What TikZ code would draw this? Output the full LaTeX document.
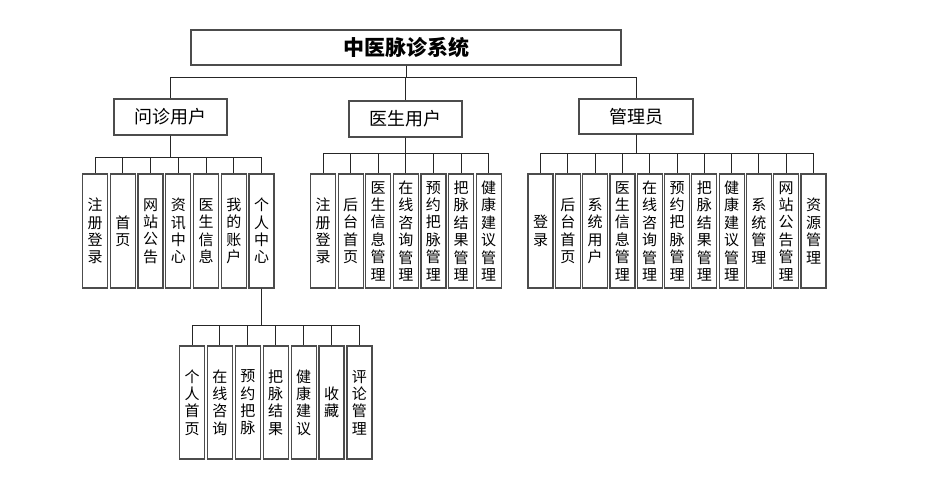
\documentclass[tikz,border=0pt]{standalone}
\usepackage{fontspec}
\setmainfont{Noto Sans CJK SC}
\usetikzlibrary{positioning}

\tikzset{
  box/.style={draw=black!70, line width=1.2pt, fill=white, inner sep=0pt},
  leaf/.style={box, minimum width=25pt, minimum height=114pt, align=center,
    font=\fontsize{15}{17.4}\selectfont},
  role/.style={box, minimum width=113pt, minimum height=36pt,
    font=\fontsize{18}{20}\selectfont},
  conn/.style={draw=black!85, line width=0.9pt}
}

\begin{document}
\begin{tikzpicture}[x=1pt,y=-1pt]
  \useasboundingbox (0,0) rectangle (939,490);

  % Top
  \node[box, minimum width=430pt, minimum height=35pt,
    font=\fontsize{21}{24}\selectfont\bfseries] (sys) at (406,47.5) {中医脉诊系统};

  % Roles
  \node[role] (wz) at (170.5,117) {问诊用户};
  \node[role] (ys) at (405.5,119) {医生用户};
  \node[role, minimum width=114pt, minimum height=35pt] (gl) at (636,116.5) {管理员};

  \foreach \r in {wz,ys,gl}
    \draw[conn] (sys.south) -- ++(0,12) -| (\r.north);

  % Patient user
  \foreach \t [count=\i] in {{注\\册\\登\\录},{首\\页},{网\\站\\公\\告},{资\\讯\\中\\心},
      {医\\生\\信\\息},{我\\的\\账\\户},{个\\人\\中\\心}} {
    \node[leaf] (a\i) at ({95+27.75*(\i-1)},231) {\t};
    \draw[conn] (wz.south) -- ++(0,22) -| (a\i.north);
  }

  % Doctor user
  \foreach \t [count=\i] in {{注\\册\\登\\录},{后\\台\\首\\页},{医\\生\\信\\息\\管\\理},
      {在\\线\\咨\\询\\管\\理},{预\\约\\把\\脉\\管\\理},{把\\脉\\结\\果\\管\\理},
      {健\\康\\建\\议\\管\\理}} {
    \node[leaf] (b\i) at ({323+27.6*(\i-1)},231) {\t};
    \draw[conn] (ys.south) -- ++(0,16) -| (b\i.north);
  }

  % Admin
  \foreach \t [count=\i] in {{登\\录},{后\\台\\首\\页},{系\\统\\用\\户},{医\\生\\信\\息\\管\\理},
      {在\\线\\咨\\询\\管\\理},{预\\约\\把\\脉\\管\\理},{把\\脉\\结\\果\\管\\理},
      {健\\康\\建\\议\\管\\理},{系\\统\\管\\理},{网\\站\\公\\告\\管\\理},{资\\源\\管\\理}} {
    \node[leaf] (c\i) at ({540.5+27.3*(\i-1)},231) {\t};
    \draw[conn] (gl.south) -- ++(0,19) -| (c\i.north);
  }

  % Personal center
  \foreach \t [count=\i] in {{个\\人\\首\\页},{在\\线\\咨\\询},{预\\约\\把\\脉},{把\\脉\\结\\果},
      {健\\康\\建\\议},{收\\藏},{评\\论\\管\\理}} {
    \node[leaf, minimum height=113pt] (d\i) at ({192+27.9*(\i-1)},402.5) {\t};
    \draw[conn] (a7.south) -- ++(0,37) -| (d\i.north);
  }
\end{tikzpicture}
\end{document}
